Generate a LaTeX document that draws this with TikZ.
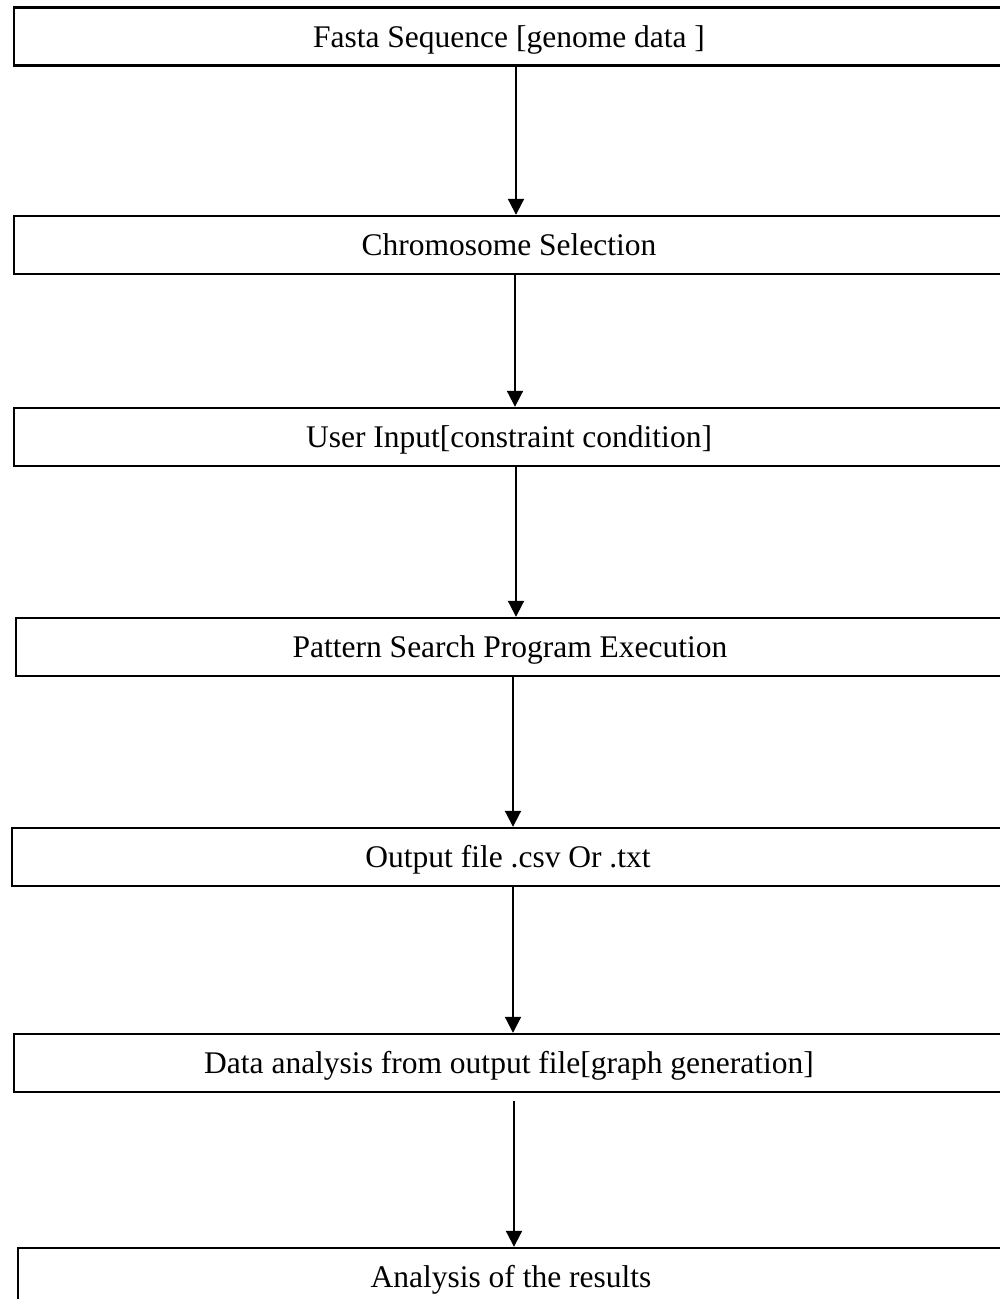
\documentclass[tikz,border=0pt]{standalone}
\usepackage{fontspec}
\setmainfont{Liberation Serif}
\usetikzlibrary{arrows.meta}
\begin{document}
\begin{tikzpicture}[x=1pt,y=-1pt,
  stagebox/.style={draw=black,line width=2.4pt,rectangle,inner sep=0pt,
    minimum height=58pt,text height=29pt,text depth=8pt,
    font=\fontsize{31.5}{36}\selectfont},
  flow/.style={line width=2pt,-{Triangle[width=16pt,length=16pt]}}]
\useasboundingbox (0,0) rectangle (1000,1299);
\node[stagebox,minimum width=990pt] (b1) at (509,36.5) {Fasta Sequence [genome data ]};
\node[stagebox,minimum width=990pt] (b2) at (509,245) {Chromosome Selection};
\node[stagebox,minimum width=990pt] (b3) at (509,437) {User Input[constraint condition]};
\node[stagebox,minimum width=988pt] (b4) at (510,647) {Pattern Search Program Execution};
\node[stagebox,minimum width=992pt] (b5) at (508,857) {Output file .csv Or .txt};
\node[stagebox,minimum width=990pt] (b6) at (509,1063) {Data analysis from output file[graph generation]};
\node[stagebox,minimum width=986pt] (b7) at (511,1277) {Analysis of the results};
\draw[flow] (b1.south -| 516,0) -- (b2.north -| 516,0);
\draw[flow] (b2.south -| 515,0) -- (b3.north -| 515,0);
\draw[flow] (b3.south -| 516,0) -- (b4.north -| 516,0);
\draw[flow] (b4.south -| 513,0) -- (b5.north -| 513,0);
\draw[flow] (b5.south -| 513,0) -- (b6.north -| 513,0);
\draw[flow,shorten <=8pt] (b6.south -| 514,0) -- (b7.north -| 514,0);
\end{tikzpicture}
\end{document}
